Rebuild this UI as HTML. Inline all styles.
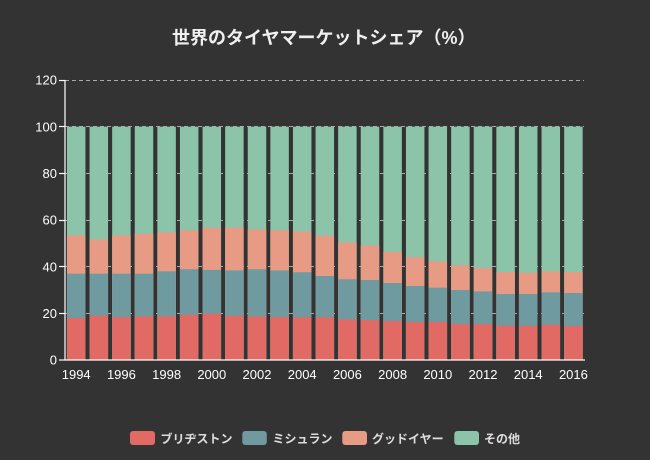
<!DOCTYPE html>
<html><head><meta charset="utf-8"><style>
html,body{margin:0;padding:0;background:#333333;}
svg{display:block;}
text{font-family:"Liberation Sans","Noto Sans CJK JP",sans-serif;}
</style></head><body>
<svg width="650" height="460" viewBox="0 0 650 460" xmlns="http://www.w3.org/2000/svg">
<rect width="650" height="460" fill="#333333"/>
<text x="172" y="44" font-size="18" font-weight="bold" fill="#f0f0f0">世界のタイヤマーケットシェア（%）</text>

<g stroke="#aaaaaa" stroke-width="1" stroke-dasharray="4,3">
<line x1="65" y1="80.5" x2="584" y2="80.5"/>
<line x1="65" y1="126.5" x2="584" y2="126.5"/>
<line x1="65" y1="173.5" x2="584" y2="173.5"/>
<line x1="65" y1="220.5" x2="584" y2="220.5"/>
<line x1="65" y1="266.5" x2="584" y2="266.5"/>
<line x1="65" y1="313.5" x2="584" y2="313.5"/>
</g>

<g fill="#8bc4a9">
<rect x="66.95" y="126.67" width="18.5" height="233.33"/>
<rect x="89.55" y="126.67" width="18.5" height="233.33"/>
<rect x="112.15" y="126.67" width="18.5" height="233.33"/>
<rect x="134.75" y="126.67" width="18.5" height="233.33"/>
<rect x="157.35" y="126.67" width="18.5" height="233.33"/>
<rect x="179.95" y="126.67" width="18.5" height="233.33"/>
<rect x="202.55" y="126.67" width="18.5" height="233.33"/>
<rect x="225.15" y="126.67" width="18.5" height="233.33"/>
<rect x="247.75" y="126.67" width="18.5" height="233.33"/>
<rect x="270.35" y="126.67" width="18.5" height="233.33"/>
<rect x="292.95" y="126.67" width="18.5" height="233.33"/>
<rect x="315.55" y="126.67" width="18.5" height="233.33"/>
<rect x="338.15" y="126.67" width="18.5" height="233.33"/>
<rect x="360.75" y="126.67" width="18.5" height="233.33"/>
<rect x="383.35" y="126.67" width="18.5" height="233.33"/>
<rect x="405.95" y="126.67" width="18.5" height="233.33"/>
<rect x="428.55" y="126.67" width="18.5" height="233.33"/>
<rect x="451.15" y="126.67" width="18.5" height="233.33"/>
<rect x="473.75" y="126.67" width="18.5" height="233.33"/>
<rect x="496.35" y="126.67" width="18.5" height="233.33"/>
<rect x="518.95" y="126.67" width="18.5" height="233.33"/>
<rect x="541.55" y="126.67" width="18.5" height="233.33"/>
<rect x="564.15" y="126.67" width="18.5" height="233.33"/>
</g>
<g fill="#e89b84">
<rect x="66.95" y="235.4" width="18.5" height="124.6"/>
<rect x="89.55" y="239.37" width="18.5" height="120.63"/>
<rect x="112.15" y="235.4" width="18.5" height="124.6"/>
<rect x="134.75" y="233.77" width="18.5" height="126.23"/>
<rect x="157.35" y="232.37" width="18.5" height="127.63"/>
<rect x="179.95" y="230.27" width="18.5" height="129.73"/>
<rect x="202.55" y="227.7" width="18.5" height="132.3"/>
<rect x="225.15" y="227.7" width="18.5" height="132.3"/>
<rect x="247.75" y="229.33" width="18.5" height="130.67"/>
<rect x="270.35" y="230.27" width="18.5" height="129.73"/>
<rect x="292.95" y="231.43" width="18.5" height="128.57"/>
<rect x="315.55" y="235.63" width="18.5" height="124.37"/>
<rect x="338.15" y="242.4" width="18.5" height="117.6"/>
<rect x="360.75" y="245.43" width="18.5" height="114.57"/>
<rect x="383.35" y="251.97" width="18.5" height="108.03"/>
<rect x="405.95" y="257.1" width="18.5" height="102.9"/>
<rect x="428.55" y="261.3" width="18.5" height="98.7"/>
<rect x="451.15" y="265.27" width="18.5" height="94.73"/>
<rect x="473.75" y="268.07" width="18.5" height="91.93"/>
<rect x="496.35" y="272.03" width="18.5" height="87.97"/>
<rect x="518.95" y="272.73" width="18.5" height="87.27"/>
<rect x="541.55" y="271.33" width="18.5" height="88.67"/>
<rect x="564.15" y="272.03" width="18.5" height="87.97"/>
</g>
<g fill="#6e9aa0">
<rect x="66.95" y="273.67" width="18.5" height="86.33"/>
<rect x="89.55" y="273.67" width="18.5" height="86.33"/>
<rect x="112.15" y="273.67" width="18.5" height="86.33"/>
<rect x="134.75" y="273.67" width="18.5" height="86.33"/>
<rect x="157.35" y="271.33" width="18.5" height="88.67"/>
<rect x="179.95" y="269.23" width="18.5" height="90.77"/>
<rect x="202.55" y="269.93" width="18.5" height="90.07"/>
<rect x="225.15" y="270.4" width="18.5" height="89.6"/>
<rect x="247.75" y="269.23" width="18.5" height="90.77"/>
<rect x="270.35" y="270.4" width="18.5" height="89.6"/>
<rect x="292.95" y="272.27" width="18.5" height="87.73"/>
<rect x="315.55" y="276.0" width="18.5" height="84.0"/>
<rect x="338.15" y="279.27" width="18.5" height="80.73"/>
<rect x="360.75" y="279.97" width="18.5" height="80.03"/>
<rect x="383.35" y="283.0" width="18.5" height="77.0"/>
<rect x="405.95" y="286.03" width="18.5" height="73.97"/>
<rect x="428.55" y="287.67" width="18.5" height="72.33"/>
<rect x="451.15" y="290.0" width="18.5" height="70.0"/>
<rect x="473.75" y="291.4" width="18.5" height="68.6"/>
<rect x="496.35" y="293.97" width="18.5" height="66.03"/>
<rect x="518.95" y="293.97" width="18.5" height="66.03"/>
<rect x="541.55" y="292.33" width="18.5" height="67.67"/>
<rect x="564.15" y="293.03" width="18.5" height="66.97"/>
</g>
<g fill="#e16a65">
<rect x="66.95" y="318.0" width="18.5" height="42.0"/>
<rect x="89.55" y="315.67" width="18.5" height="44.33"/>
<rect x="112.15" y="317.07" width="18.5" height="42.93"/>
<rect x="134.75" y="316.37" width="18.5" height="43.63"/>
<rect x="157.35" y="316.37" width="18.5" height="43.63"/>
<rect x="179.95" y="314.73" width="18.5" height="45.27"/>
<rect x="202.55" y="313.57" width="18.5" height="46.43"/>
<rect x="225.15" y="315.9" width="18.5" height="44.1"/>
<rect x="247.75" y="316.37" width="18.5" height="43.63"/>
<rect x="270.35" y="317.07" width="18.5" height="42.93"/>
<rect x="292.95" y="317.3" width="18.5" height="42.7"/>
<rect x="315.55" y="317.3" width="18.5" height="42.7"/>
<rect x="338.15" y="319.4" width="18.5" height="40.6"/>
<rect x="360.75" y="320.1" width="18.5" height="39.9"/>
<rect x="383.35" y="321.03" width="18.5" height="38.97"/>
<rect x="405.95" y="321.97" width="18.5" height="38.03"/>
<rect x="428.55" y="321.97" width="18.5" height="38.03"/>
<rect x="451.15" y="324.07" width="18.5" height="35.93"/>
<rect x="473.75" y="324.07" width="18.5" height="35.93"/>
<rect x="496.35" y="325.7" width="18.5" height="34.3"/>
<rect x="518.95" y="325.93" width="18.5" height="34.07"/>
<rect x="541.55" y="324.77" width="18.5" height="35.23"/>
<rect x="564.15" y="325.93" width="18.5" height="34.07"/>
</g>

<g stroke="#ffffff" stroke-width="1.2">
<line x1="65" y1="80" x2="65" y2="360.5"/>
<line x1="64.5" y1="360" x2="585" y2="360"/>
<line x1="59" y1="80.5" x2="65" y2="80.5"/>
<line x1="59" y1="126.5" x2="65" y2="126.5"/>
<line x1="59" y1="173.5" x2="65" y2="173.5"/>
<line x1="59" y1="220.5" x2="65" y2="220.5"/>
<line x1="59" y1="266.5" x2="65" y2="266.5"/>
<line x1="59" y1="313.5" x2="65" y2="313.5"/>
<line x1="59" y1="360" x2="65" y2="360"/>
</g>

<g font-size="13" fill="#ffffff" text-anchor="end">
<text x="57" y="84.7">120</text>
<text x="57" y="131.3">100</text>
<text x="57" y="178">80</text>
<text x="57" y="224.7">60</text>
<text x="57" y="271.3">40</text>
<text x="57" y="318">20</text>
<text x="57" y="364.7">0</text>
</g>
<g font-size="13" fill="#ffffff" text-anchor="middle">
<text x="76.2" y="379">1994</text>
<text x="121.4" y="379">1996</text>
<text x="166.6" y="379">1998</text>
<text x="211.8" y="379">2000</text>
<text x="257" y="379">2002</text>
<text x="302.2" y="379">2004</text>
<text x="347.4" y="379">2006</text>
<text x="392.6" y="379">2008</text>
<text x="437.8" y="379">2010</text>
<text x="483" y="379">2012</text>
<text x="528.2" y="379">2014</text>
<text x="573.4" y="379">2016</text>
</g>

<g>
<rect x="130" y="431" width="25" height="14" rx="3" fill="#e16a65"/>
<rect x="242.3" y="431" width="24.5" height="14" rx="3" fill="#6e9aa0"/>
<rect x="342.3" y="431" width="24.7" height="14" rx="3" fill="#e89b84"/>
<rect x="454.3" y="431" width="24.7" height="14" rx="3" fill="#8bc4a9"/>
</g>
<g font-size="12" font-weight="bold" fill="#dddddd">
<text x="160.5" y="443">ブリヂストン</text>
<text x="272.5" y="443">ミシュラン</text>
<text x="372" y="443">グッドイヤー</text>
<text x="484" y="443">その他</text>
</g>
</svg>
</body></html>
